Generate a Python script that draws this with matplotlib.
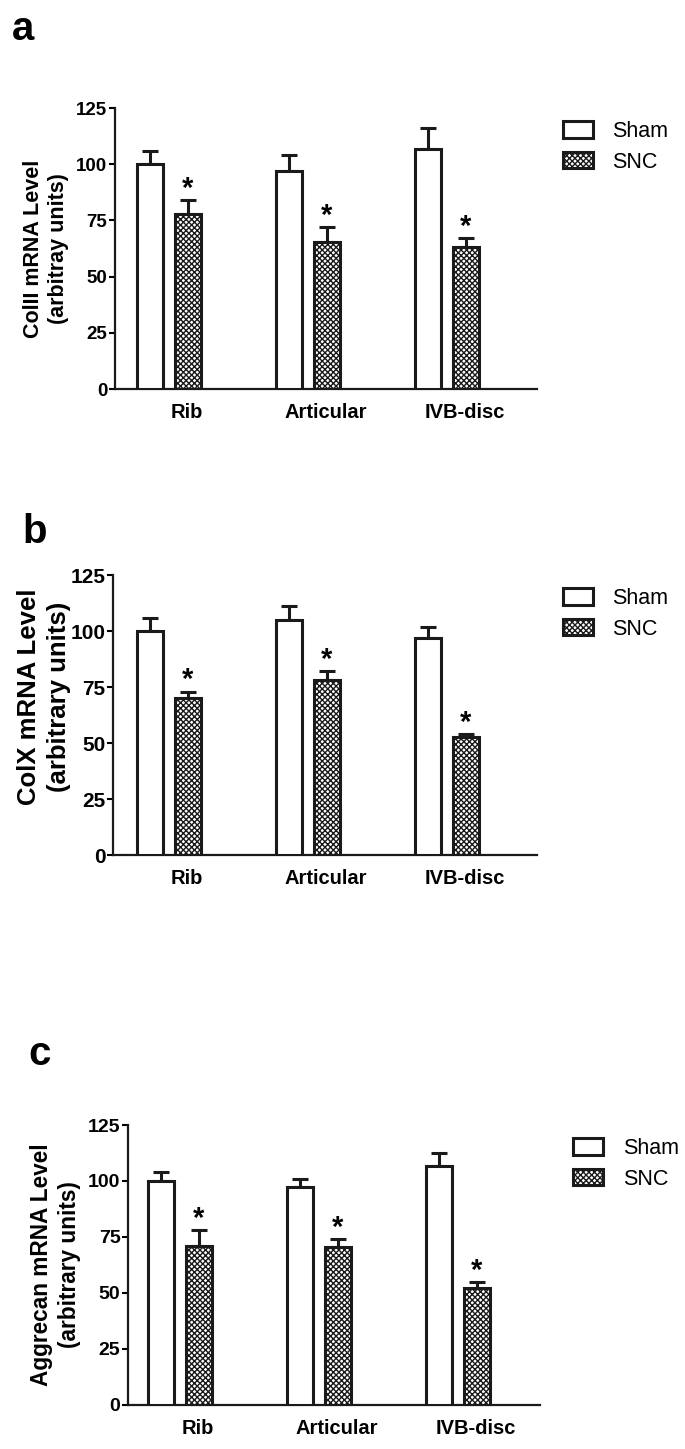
import matplotlib.pyplot as plt
import numpy as np

plt.rcParams['font.family'] = ['Liberation Sans', 'DejaVu Sans']
plt.rcParams['hatch.linewidth'] = 1.0

# data
sites = ['Rib', 'Articular', 'IVB-disc']
groups = ['Sham', 'SNC']

col2_sham = [100, 97, 107]
col2_sham_err = [6, 7, 9]
col2_snc = [78, 65.5, 63]
col2_snc_err = [6, 6.5, 4]

col10_sham = [100, 105, 97]
col10_sham_err = [6, 6, 5]
col10_snc = [70, 78, 52.5]
col10_snc_err = [3, 4, 1.5]

agg_sham = [100, 97.5, 106.5]
agg_sham_err = [4, 3.5, 6]
agg_snc = [71, 70.5, 52]
agg_snc_err = [7, 3.5, 3]

yticks = [0, 25, 50, 75, 100, 125]

# letter, ylabel, data..., axes rect, xlim, letter pos, ylabel size, tick size, legend x, ylabel coords
panels = [
    ('a', 'ColII mRNA Level\n(arbitray units)', col2_sham, col2_sham_err, col2_snc, col2_snc_err,
     [0.168, 0.7315, 0.616, 0.1939], (-0.388, 2.647), (0.018, 0.993), 15.5, 13.5, 1.03, None),
    ('b', 'ColX mRNA Level\n(arbitrary units)', col10_sham, col10_sham_err, col10_snc, col10_snc_err,
     [0.165, 0.4099, 0.619, 0.1932], (-0.403, 2.65), (0.032, 0.646), 18.5, 15, 1.03, (-0.1, 0.564)),
    ('c', 'Aggrecan mRNA Level\n(arbitrary units)', agg_sham, agg_sham_err, agg_snc, agg_snc_err,
     [0.187, 0.0304, 0.601, 0.1932], (-0.374, 2.59), (0.042, 0.286), 16.3, 14, 1.05, None),
]

fig = plt.figure(figsize=(6.85, 14.49), dpi=100)

x = np.arange(len(sites))
w = 0.187
off = 0.135

for (letter, ylabel, sham, sham_err, snc, snc_err, pos, xlim, lpos,
     ylab_fs, tick_fs, leg_x, ylab_xy) in panels:
    ax = fig.add_axes(pos)
    ax.bar(x - off, sham, w, color='white', edgecolor='#1a1a1a', linewidth=2.2,
           label=groups[0], zorder=3)
    ax.bar(x + off, snc, w, color='white', edgecolor='#1a1a1a', linewidth=2.2,
           hatch='xxxxxx', label=groups[1], zorder=3)
    ax.errorbar(x - off, sham, yerr=[np.zeros(3), sham_err], fmt='none',
                ecolor='#1a1a1a', elinewidth=2.2, capsize=6, capthick=2.2, zorder=2)
    ax.errorbar(x + off, snc, yerr=[np.zeros(3), snc_err], fmt='none',
                ecolor='#1a1a1a', elinewidth=2.2, capsize=6, capthick=2.2, zorder=2)
    for xi, v, e in zip(x + off, snc, snc_err):
        ax.annotate('*', (xi, v + e), xytext=(0, -2), textcoords='offset points',
                    ha='center', va='bottom', fontsize=21, fontweight='bold')

    ax.set_ylim(0, 125)
    ax.set_xlim(*xlim)
    ax.set_yticks(yticks)
    # category labels sit a little right of the bar pairs
    ax.set_xticks(x + 0.13)
    ax.set_xticklabels(sites, fontsize=14.5, fontweight='bold')
    ax.tick_params(axis='x', length=0, pad=10)
    ax.tick_params(axis='y', length=4, width=1.5, labelsize=tick_fs, pad=1.5)
    for lab in ax.get_yticklabels():
        lab.set_fontweight('bold')
    for s in ['top', 'right']:
        ax.spines[s].set_visible(False)
    for s in ['left', 'bottom']:
        ax.spines[s].set_linewidth(1.6)
        ax.spines[s].set_color('#1a1a1a')
    ax.set_ylabel(ylabel, fontsize=ylab_fs, fontweight='bold', labelpad=5, linespacing=1.3)
    if ylab_xy is not None:
        ax.yaxis.set_label_coords(*ylab_xy)

    ax.legend(loc='upper left', bbox_to_anchor=(leg_x, 1.0), frameon=False,
              fontsize=15.5, handlelength=1.4, handleheight=0.8, handletextpad=0.9,
              labelspacing=0.45, borderaxespad=0.2)

    fig.text(lpos[0], lpos[1], letter, fontsize=29, fontweight='bold', ha='left', va='top')

fig.savefig('out.png', dpi=100)
